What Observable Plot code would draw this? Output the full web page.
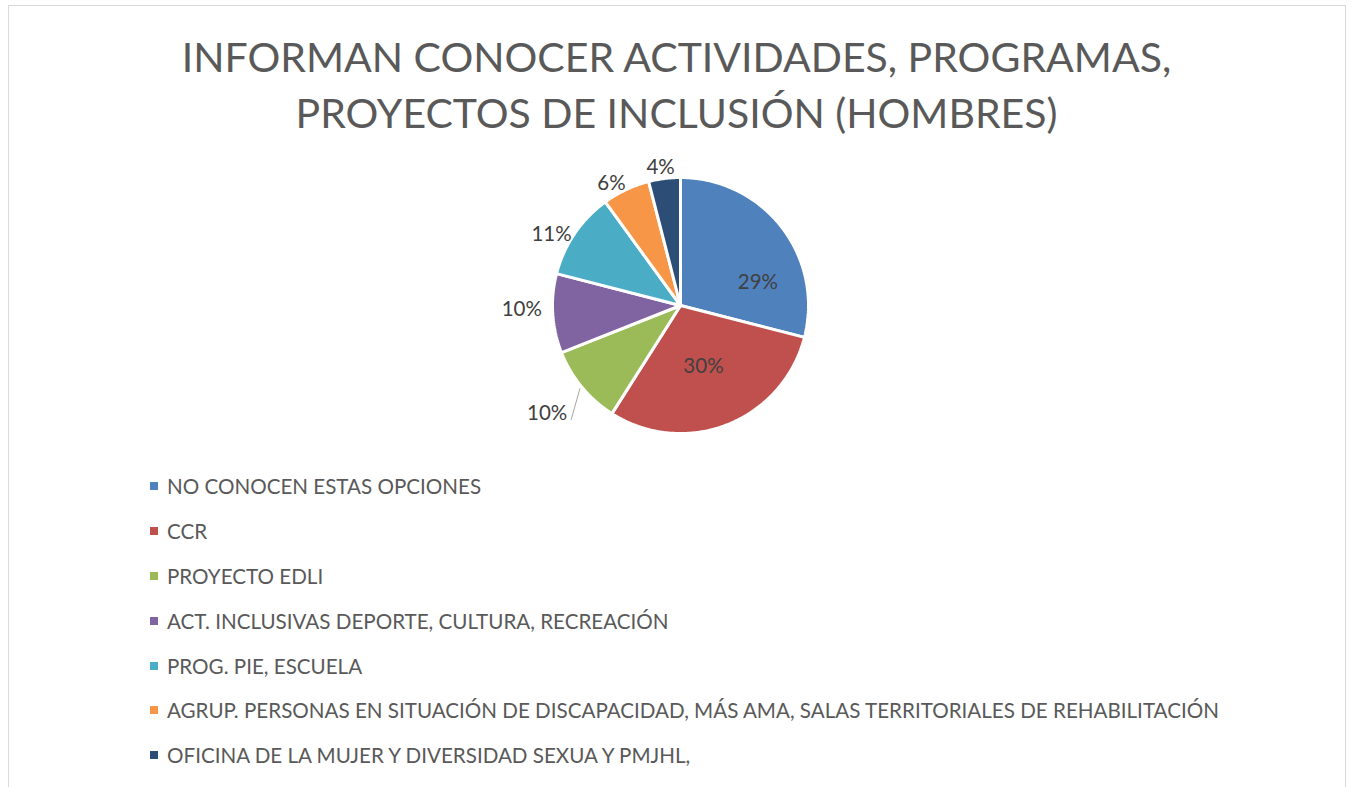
<!DOCTYPE html>
<html>
<head>
<meta charset="utf-8">
<script src="https://cdn.jsdelivr.net/npm/d3@7"></script>
<script src="https://cdn.jsdelivr.net/npm/@observablehq/plot@0.6"></script>
<style>
  html, body { margin: 0; padding: 0; background: #fff; }
  #page { position: relative; width: 1353px; height: 787px; overflow: hidden; font-family: Lato, "Open Sans", sans-serif; }
  #frame { position: absolute; left: 8px; top: 5px; width: 1338px; height: 820px; border: 1px solid #d9d9d9; box-sizing: border-box; }
  #title { position: absolute; left: 0; top: 29px; width: 1353px; text-align: center; color: #595959; font-size: 41px; line-height: 56px; font-weight: 400; }
  #chart { position: absolute; left: 0; top: 150px; }
  #legend { position: absolute; left: 150px; top: 464px; }
  .item { height: 44.8px; display: flex; align-items: center; color: #595959; font-size: 20.6px; white-space: nowrap; }
  .sw { width: 8px; height: 8px; margin-right: 9px; flex: none; }
</style>
</head>
<body>
<div id="page">
  <div id="frame"></div>
  <div id="title">INFORMAN CONOCER ACTIVIDADES, PROGRAMAS,<br>PROYECTOS DE INCLUSIÓN (HOMBRES)</div>
  <div id="chart"></div>
  <div id="legend"></div>
</div>
<script>
// ---- data ----
const categories = [
  "NO CONOCEN ESTAS OPCIONES",
  "CCR",
  "PROYECTO EDLI",
  "ACT. INCLUSIVAS DEPORTE, CULTURA, RECREACIÓN",
  "PROG. PIE, ESCUELA",
  "AGRUP. PERSONAS EN SITUACIÓN DE DISCAPACIDAD, MÁS AMA, SALAS TERRITORIALES DE REHABILITACIÓN",
  "OFICINA DE LA MUJER Y DIVERSIDAD SEXUA Y PMJHL,"
];
const values = [29, 30, 10, 10, 11, 6, 4];
const colors = ["#4F81BD", "#C0504D", "#9BBB59", "#8064A2", "#4BACC6", "#F79646", "#2C4D75"];

// ---- label layout (radius in pie radii, angle nudge in degrees) ----
const labelRadius = [0.63, 0.51, 1.34, 1.24, 1.15, 1.095, 1.09];
const labelNudge = [21.4, 1, 0.6, 2.2, -5.4, -4.3, -1];
const leaderFor = [false, false, true, false, false, false, false];

const total = d3.sum(values);
const arcs = d3.pie().sort(null).value(d => d)(values);

const pts = [];
arcs.forEach((a, i) => {
  const cat = categories[i];
  pts.push({cat, x: 0, y: 0});
  const n = Math.max(2, Math.ceil((a.endAngle - a.startAngle) / 0.01));
  for (let k = 0; k <= n; k++) {
    const t = a.startAngle + (a.endAngle - a.startAngle) * k / n;
    pts.push({cat, x: Math.sin(t), y: Math.cos(t)});
  }
  pts.push({cat, x: 0, y: 0});
});

const labels = arcs.map((a, i) => {
  const mid = (a.startAngle + a.endAngle) / 2 + labelNudge[i] * Math.PI / 180;
  return {
    cat: categories[i],
    text: Math.round(values[i] / total * 100) + "%",
    x: labelRadius[i] * Math.sin(mid),
    y: labelRadius[i] * Math.cos(mid),
    mid: (a.startAngle + a.endAngle) / 2
  };
});

const R = 128;
const leaders = [];
labels.forEach((l, i) => {
  if (!leaderFor[i]) return;
  leaders.push({cat: l.cat, x: 1.02 * Math.sin(l.mid), y: 1.02 * Math.cos(l.mid)});
  leaders.push({cat: l.cat, x: l.x + 24 / R, y: l.y - 6 / R});
});

const cx = 680, cy = 155;
const plot = Plot.plot({
  width: 1353,
  height: 300,
  margin: 0,
  x: {domain: [-1, 1], range: [cx - R, cx + R], axis: null},
  y: {domain: [-1, 1], range: [cy + R, cy - R], axis: null},
  color: {domain: categories, range: colors},
  style: {background: "transparent", fontFamily: "Lato, 'Open Sans', sans-serif"},
  marks: [
    Plot.line(pts, {x: "x", y: "y", z: "cat", fill: "cat", stroke: "white", strokeWidth: 3, strokeLinejoin: "miter", curve: "linear"}),
    Plot.line(leaders, {x: "x", y: "y", z: "cat", stroke: "#a6a6a6", strokeWidth: 1}),
    Plot.text(labels, {x: "x", y: "y", text: "text", fontSize: 20.5, fill: "#404040"})
  ]
});
document.getElementById("chart").appendChild(plot);

const legend = document.getElementById("legend");
categories.forEach((c, i) => {
  const row = document.createElement("div");
  row.className = "item";
  const sw = document.createElement("span");
  sw.className = "sw";
  sw.style.background = colors[i];
  const tx = document.createElement("span");
  tx.textContent = c;
  row.appendChild(sw);
  row.appendChild(tx);
  legend.appendChild(row);
});
</script>
</body>
</html>
